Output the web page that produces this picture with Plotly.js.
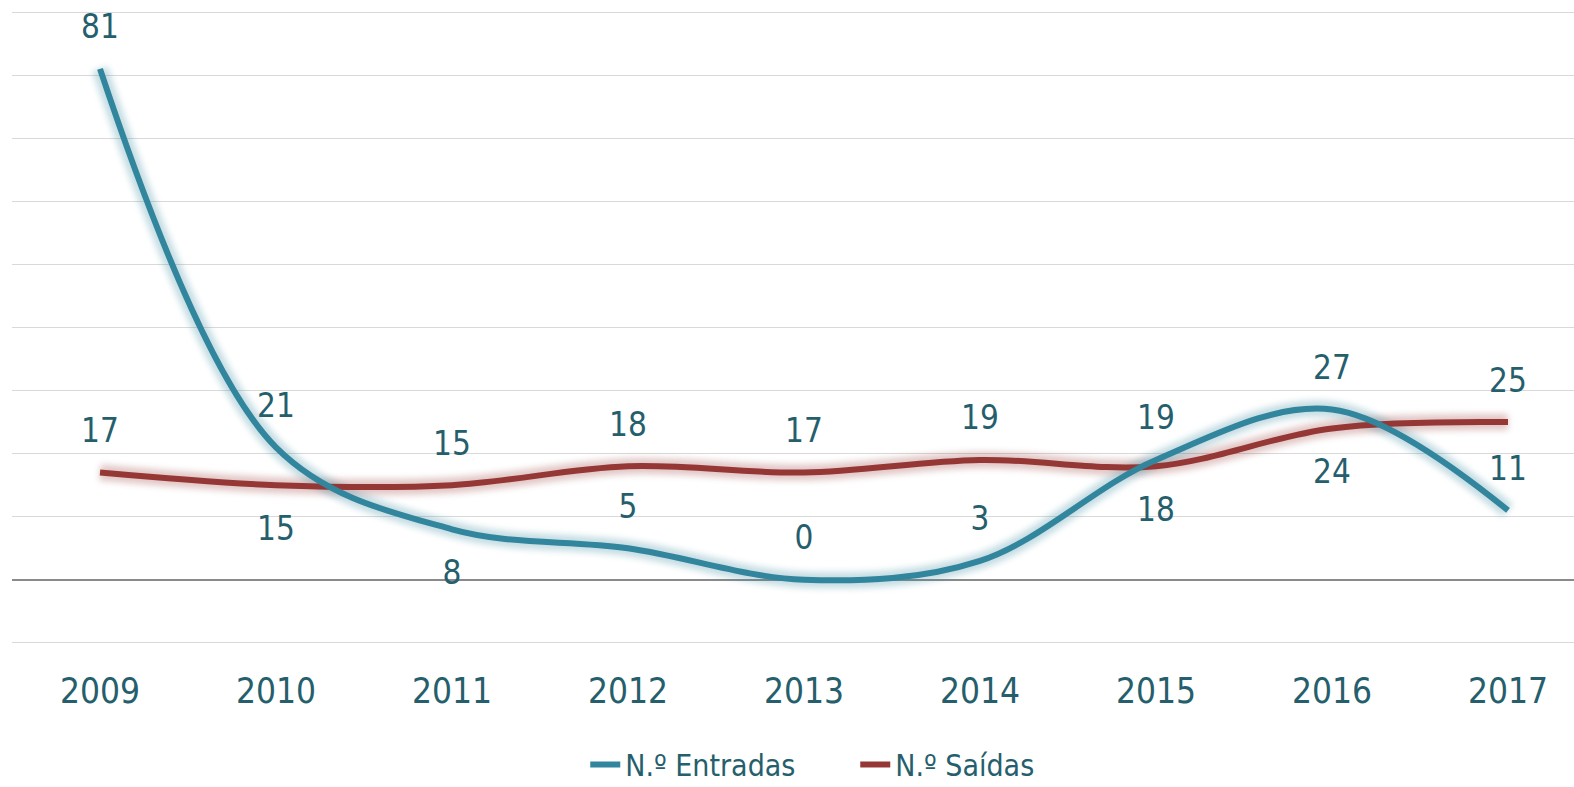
<!DOCTYPE html>
<html>
<head>
<meta charset="utf-8">
<script src="https://cdn.plot.ly/plotly-3.0.1.min.js"></script>
<style>
  html, body { margin: 0; padding: 0; background: #ffffff; }
  #chart { width: 1574px; height: 787px; }
</style>
</head>
<body>
<div id="chart"></div>
<script>
// ---- Data ----
const years = ["2009", "2010", "2011", "2012", "2013", "2014", "2015", "2016", "2017"];
const entradas = [81, 21, 8, 5, 0, 3, 19, 27, 11];
const saidas = [17, 15, 15, 18, 17, 19, 18, 24, 25];
const entradasLabelPos = ["top center", "top center", "bottom center", "top center", "top center", "top center", "top center", "top center", "top center"];
const saidasLabelPos = ["top center", "bottom center", "top center", "top center", "top center", "top center", "bottom center", "bottom center", "top center"];
const seriesNames = ["N.º Entradas", "N.º Saídas"];

// ---- Style ----
const FONT = "DejaVu Sans Condensed, Liberation Sans Narrow, sans-serif";
const TEXT_COLOR = "#255e6c";
const BLUE = "#31859c";
const RED = "#953735";

// invisible marker size used only to offset the data labels from the line
function labelGap(pos) { return pos.map(p => p.indexOf("top") === 0 ? 34 : 46); }

function glow(y, color) {
  return {
    x: years, y: y, type: "scatter", mode: "lines",
    line: { color: color, width: 16, shape: "spline", smoothing: 1 },
    opacity: 0.28, showlegend: false, hoverinfo: "skip"
  };
}

function series(y, name, color, pos) {
  return {
    x: years, y: y, name: name, type: "scatter",
    mode: "lines+markers+text",
    line: { color: color, width: 6, shape: "spline", smoothing: 1 },
    marker: { size: labelGap(pos), color: "rgba(0,0,0,0)", line: { width: 0 } },
    text: y.map(String), textposition: pos,
    textfont: { family: FONT, size: 33, color: TEXT_COLOR },
    cliponaxis: false
  };
}

const traces = [
  glow(saidas, RED),
  glow(entradas, BLUE),
  series(saidas, seriesNames[1], RED, saidasLabelPos),
  series(entradas, seriesNames[0], BLUE, entradasLabelPos)
];

const layout = {
  width: 1574, height: 787,
  margin: { l: 12, r: 0, t: 9, b: 141, autoexpand: false },
  paper_bgcolor: "#ffffff", plot_bgcolor: "#ffffff",
  font: { family: FONT, color: TEXT_COLOR },
  showlegend: true,
  legend: {
    orientation: "h", traceorder: "reversed",
    x: 0.367, xanchor: "left", y: -0.186, yanchor: "middle",
    font: { family: FONT, size: 30, color: TEXT_COLOR },
    entrywidth: 225, entrywidthmode: "pixels",
    bgcolor: "rgba(0,0,0,0)"
  },
  xaxis: {
    type: "category", range: [-0.5, 8.375],
    showgrid: false, zeroline: false, showline: false,
    ticks: "outside", ticklen: 14, tickcolor: "rgba(0,0,0,0)",
    tickfont: { family: FONT, size: 35, color: TEXT_COLOR },
    fixedrange: true
  },
  yaxis: {
    range: [-10.5, 90.5], dtick: 10, tick0: 0,
    showgrid: true, gridcolor: "#d9d9d9", gridwidth: 1.3,
    zeroline: true, zerolinecolor: "#8a8a8a", zerolinewidth: 1.5,
    showticklabels: false, showline: false, ticks: "",
    fixedrange: true
  }
};

Plotly.newPlot("chart", traces, layout, { displayModeBar: false, staticPlot: true }).then(function (gd) {
  const svg = gd.querySelector("svg.main-svg");
  const ns = "http://www.w3.org/2000/svg";
  let defs = svg.querySelector("defs");
  if (!defs) { defs = document.createElementNS(ns, "defs"); svg.insertBefore(defs, svg.firstChild); }
  const f = document.createElementNS(ns, "filter");
  f.setAttribute("id", "glowblur");
  f.setAttribute("x", "-20%"); f.setAttribute("y", "-20%");
  f.setAttribute("width", "140%"); f.setAttribute("height", "140%");
  const b = document.createElementNS(ns, "feGaussianBlur");
  b.setAttribute("stdDeviation", "3");
  f.appendChild(b);
  defs.appendChild(f);
  const groups = gd.querySelectorAll(".scatterlayer .trace");
  for (let i = 0; i < 2 && i < groups.length; i++) {
    groups[i].querySelectorAll("path.js-line").forEach(function (p) { p.setAttribute("filter", "url(#glowblur)"); });
  }
});
</script>
</body>
</html>
